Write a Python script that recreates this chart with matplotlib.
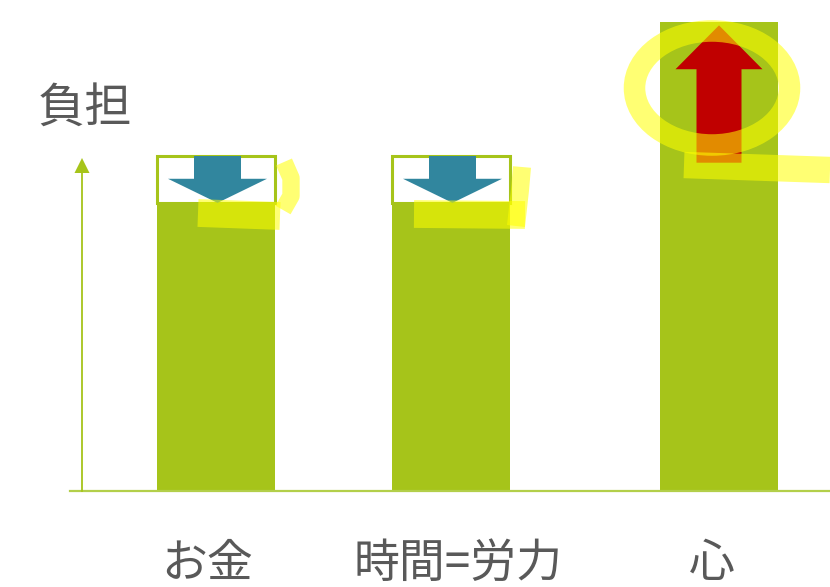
import matplotlib
matplotlib.use("Agg")
import matplotlib.pyplot as plt
from matplotlib.patches import FancyArrow, Ellipse, Polygon

plt.rcParams["font.family"] = ["Noto Sans CJK JP", "DejaVu Sans"]

# burden per category: level before (box outline) and after (filled bar)
categories = ["お金", "時間=労力", "心"]
burden_before = [100, 100, 98]
burden_after = [86, 86, 140]
axis_label = "負担"

GREEN = "#a6c41a"
BLUE = "#31869e"
RED = "#c00000"
TEXT = "#595959"
HILITE = "#ffff00"

W, H = 830, 587
BASE_PX = 491          # baseline row in the canvas
PX_PER_UNIT = 3.35
xpos = [216, 451, 719]  # bar centres (canvas px)
label_dx = [-9, 7, -7]  # nudges for the category labels
bar_w = 118

fig = plt.figure(figsize=(W / 100, H / 100), dpi=100)
ax = fig.add_axes([0, 0, 1, 1])
ax.set_xlim(0, W)
ax.set_ylim(-(H - BASE_PX) / PX_PER_UNIT, BASE_PX / PX_PER_UNIT)
ax.axis("off")

# bars
ax.bar(xpos, burden_after, width=bar_w, color=GREEN, zorder=2)

for x, b, a in zip(xpos, burden_before, burden_after):
    if a < b:
        # freed-up burden: white box with green outline, blue arrow down
        ax.bar(x, b - a, bottom=a, width=bar_w, color="white",
               edgecolor=GREEN, linewidth=2.2, zorder=3)
        ax.add_patch(FancyArrow(x + 1.5, b, 0, a - b, width=47, head_width=99,
                                head_length=7.2, length_includes_head=True,
                                color=BLUE, lw=0, zorder=4))
    else:
        ax.add_patch(FancyArrow(x, b, 0, a - b - 1, width=45, head_width=87,
                                head_length=13.1, length_includes_head=True,
                                color=RED, lw=0, zorder=4))

# overlay in canvas pixels for axes, labels and the highlighter marks
ov = fig.add_axes([0, 0, 1, 1])
ov.set_xlim(0, W)
ov.set_ylim(H, 0)
ov.axis("off")
ov.patch.set_alpha(0)

ov.plot([70, W], [BASE_PX, BASE_PX], color="#b3cf4a", lw=1.6, zorder=1)
ov.plot([82, 82], [BASE_PX, 170], color=GREEN, lw=1.3, zorder=1)
ov.add_patch(Polygon([[74.5, 173], [89.5, 173], [82, 158]], closed=True,
                     color=GREEN, lw=0))

ov.text(85, 108, axis_label, fontsize=34, color=TEXT, ha="center", va="center")
for x, dx, c in zip(xpos, label_dx, categories):
    ov.text(x + dx, 564, c, fontsize=33, color=TEXT, ha="center", va="center")

# highlighter strokes
hl = dict(color=HILITE, alpha=0.55, solid_capstyle="butt", solid_joinstyle="round")
ov.plot([198, 280], [213, 216], lw=20, **hl)
ov.plot([284, 291, 291, 283], [162, 178, 196, 210], lw=12.5, **hl)
ov.plot([414, 525], [214, 215], lw=20, **hl)
ov.plot([522, 520, 516], [167, 190, 226], lw=13, **hl)
ov.add_patch(Ellipse((712, 88), 155, 114, fill=False, edgecolor=HILITE,
                     alpha=0.55, lw=15.5))
ov.plot([684, 830], [165, 170], lw=19, **hl)

fig.savefig("out.png", dpi=100)
